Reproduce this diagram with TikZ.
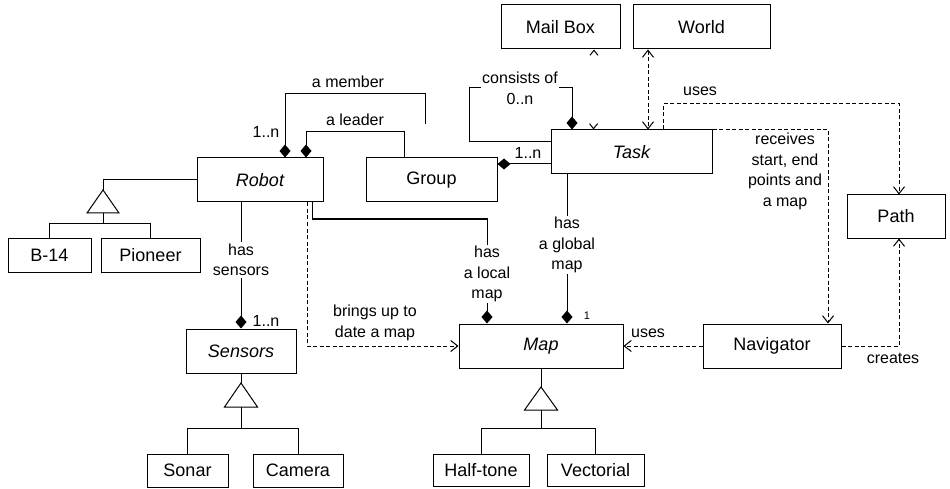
\documentclass[tikz,border=0pt]{standalone}
\usepackage{fontspec}
\setmainfont{Liberation Sans}
\usetikzlibrary{arrows.meta}
\begin{document}
\begin{tikzpicture}[x=1pt,y=-1pt,
  box/.style={draw, line width=1pt, inner sep=0pt, font=\fontsize{18}{21}\selectfont},
  lbl/.style={font=\fontsize{16}{20.5}\selectfont, align=center, inner sep=1.5pt},
  wlbl/.style={lbl, fill=white},
  conn/.style={line width=1pt},
  assoc/.style={conn, -{Diamond[length=13pt,width=11pt]}},
  dep/.style={conn, dash pattern=on 4pt off 2.5pt, -{Straight Barb[length=7pt,width=11pt]}},
  gentri/.style={draw, line width=1pt, fill=white},
]
\useasboundingbox (0,0) rectangle (950,489);

% boxes
\node[box, minimum width=119pt, minimum height=44pt] (mailbox) at (560.5,27) {Mail Box};
\node[box, minimum width=137pt, minimum height=44pt] (world) at (701.5,27) {World};
\node[box, minimum width=161pt, minimum height=44pt] (task) at (631.5,152) {\itshape Task};
\node[box, minimum width=98pt, minimum height=43pt] (path) at (896,216.5) {Path};
\node[box, minimum width=126pt, minimum height=44pt] (robot) at (260,180) {\itshape Robot};
\node[box, minimum width=131pt, minimum height=44pt] (group) at (431.5,180) {Group};
\node[box, minimum width=83pt, minimum height=34pt] (b14) at (49.5,255) {B-14};
\node[box, minimum width=99pt, minimum height=34pt] (pioneer) at (150.5,255) {Pioneer};
\node[box, minimum width=110pt, minimum height=44pt] (sensors) at (241,351) {\itshape Sensors};
\node[box, minimum width=81pt, minimum height=33pt] (sonar) at (187.5,470.5) {Sonar};
\node[box, minimum width=90pt, minimum height=33pt] (camera) at (298,470.5) {Camera};
\node[box, minimum width=164pt, minimum height=44pt] (map) at (541,346) {\itshape Map};
\node[box, minimum width=96pt, minimum height=32pt] (halftone) at (481,470) {Half-tone};
\node[box, minimum width=97pt, minimum height=32pt] (vectorial) at (595.5,470) {Vectorial};
\node[box, minimum width=138pt, minimum height=44pt] (navigator) at (772,346) {Navigator};

% generalization Robot
\coordinate (rtri) at (103,190);
\coordinate (rbase) at (103,213);
\coordinate (rbar) at (103,223);
\draw[conn] (robot.west) -| (rtri);
\draw[gentri] (rtri) -- ++(-16,23) -- ++(32,0) -- cycle;
\draw[conn] (rbase) -- (rbar);
\draw[conn] (b14.north |- rbar) -- (pioneer.north |- rbar);
\draw[conn] (b14.north |- rbar) -- (b14.north);
\draw[conn] (pioneer.north |- rbar) -- (pioneer.north);

% generalization Sensors
\coordinate (stri) at (241,383);
\coordinate (sbase) at (241,407);
\coordinate (sbar) at (241,428);
\draw[conn] (sensors.south) -- (stri);
\draw[gentri] (stri) -- ++(-16.5,24) -- ++(33,0) -- cycle;
\draw[conn] (sbase) -- (sbar);
\draw[conn] (sonar.north |- sbar) -- (camera.north |- sbar);
\draw[conn] (sonar.north |- sbar) -- (sonar.north);
\draw[conn] (camera.north |- sbar) -- (camera.north);

% generalization Map
\coordinate (mtri) at (541,387);
\coordinate (mbase) at (541,410);
\coordinate (mbar) at (541,428);
\draw[conn] (map.south) -- (mtri);
\draw[gentri] (mtri) -- ++(-16.5,23) -- ++(33,0) -- cycle;
\draw[conn] (mbase) -- (mbar);
\draw[conn] (halftone.north |- mbar) -- (vectorial.north |- mbar);
\draw[conn] (halftone.north |- mbar) -- (halftone.north);
\draw[conn] (vectorial.north |- mbar) -- (vectorial.north);

% Robot - Sensors
\draw[assoc] (sensors.north |- robot.south) -- (sensors.north);
\node[wlbl] (lsens) at (241,260) {has\\sensors};
\node[lbl] (msens) at (266,321) {1..n};

% Robot - Map (brings up to date)
\draw[dep] ([xshift=47pt]robot.south) |- (map.west);
\node[lbl] (lbring) at (375,323) {brings up to\\date a map};

% Robot - Map (local map)
\coordinate (lmtop) at (487,219);
\draw[assoc] ([xshift=52pt]robot.south) |- (lmtop) -- ([xshift=-54pt]map.north);
\node[wlbl] (llocal) at (487,274) {has\\a local\\map};

% Task - Map (global map)
\draw[assoc] ([xshift=-64.5pt]task.south) -- ([xshift=26pt]map.north);
\node[wlbl] (lglobal) at (567,245) {has\\a global\\map};
\node[font=\fontsize{11}{13}\selectfont, inner sep=1pt] (mglobal) at (587,316) {1};

% Group - Task
\coordinate (gt) at ([yshift=-12pt]task.west);
\draw[assoc] (gt) -- (gt -| group.east);
\node[lbl] (mgroup) at (528,153) {1..n};

% a leader
\coordinate (ldtop) at (404,132);
\draw[assoc] ([xshift=-27.5pt]group.north) |- (ldtop) -| ([xshift=46pt]robot.north);
\node[lbl] (lleader) at (355,120) {a leader};

% a member
\coordinate (memend) at (425,124);
\coordinate (memtop) at (425,94);
\draw[assoc] (memend) -- (memtop) -| ([xshift=25pt]robot.north);
\node[lbl] (lmember) at (348,82) {a member};
\node[lbl] (mmember) at (266,132) {1..n};

% consists of
\coordinate (ctop) at (469,88);
\draw[assoc] ([yshift=10pt]task.west) -| (ctop) -| ([xshift=-59.5pt]task.north);
\node[wlbl] (lconsist) at (520,88.5) {consists of\\0..n};

% World - Task
\draw[dep, {Straight Barb[length=7pt,width=11pt]}-{Straight Barb[length=7pt,width=11pt]}] ([xshift=-53.5pt]world.south) -- ([xshift=16.5pt]task.north);

% Mail Box - Task (line faded, only tips visible)
\draw[conn, dash pattern=on 0pt off 500pt, {Straight Barb[length=5pt,width=8pt]}-{Straight Barb[length=5pt,width=8pt]}] ([xshift=33.5pt]mailbox.south) -- ([xshift=-38pt]task.north);

% Task - Path uses
\coordinate (utop) at (899,104);
\draw[dep] ([xshift=31.5pt]task.north) |- (utop) -- ([xshift=3pt]path.north);
\node[lbl] (luses1) at (700,91) {uses};

% Task - Navigator
\draw[dep] (task.north east) -| ([xshift=56pt]navigator.north);
\node[lbl] (lrecv) at (785,171.5) {receives\\start, end\\points and\\a map};

% Navigator - Path creates
\draw[dep] (navigator.east) -| ([xshift=3pt]path.south);
\node[lbl] (lcreates) at (893,358) {creates};

% Navigator - Map uses
\draw[dep] (navigator.west) -- (map.east);
\node[lbl] (luses2) at (648,333) {uses};

\end{tikzpicture}
\end{document}
